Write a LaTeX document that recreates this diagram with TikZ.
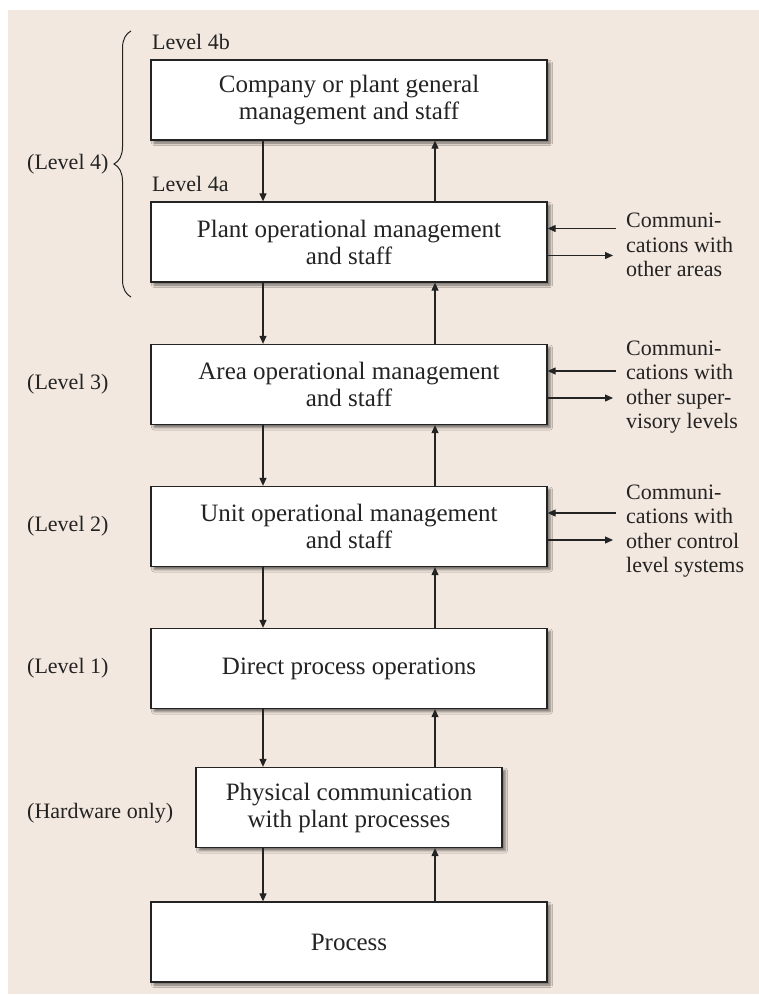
\documentclass[tikz,border=0pt]{standalone}
\usepackage{fontspec}
\setmainfont{Liberation Serif}
\usetikzlibrary{shadows.blur,decorations.pathreplacing,arrows.meta}
\definecolor{panel}{RGB}{243,232,223}
\definecolor{ink}{RGB}{35,35,35}
\begin{document}
\begin{tikzpicture}[x=1pt,y=-1pt,
  level/.style={draw=ink, line width=1.3pt, fill=white, minimum width=396pt,
    minimum height=80pt, inner sep=0pt, align=center,
    font=\fontsize{25}{27}\selectfont, text=ink,
    blur shadow={shadow xshift=3pt, shadow yshift=-3pt,
      shadow blur radius=2.5pt, shadow opacity=55}},
  tag/.style={anchor=west, inner sep=0pt, font=\fontsize{22}{24.5}\selectfont, text=ink},
  note/.style={anchor=west, inner sep=0pt, align=left,
    font=\fontsize{22}{24.5}\selectfont, text=ink},
  link/.style={draw=ink, line width=1.2pt, -{Triangle[length=8pt,width=7pt]}}
]
\useasboundingbox (0,0) rectangle (759,995);
\fill[panel] (8,10) rectangle (759,994);

% hierarchy boxes
\node[level] (b4b) at (349,100)   {Company or plant general\\management and staff};
\node[level] (b4a) at (349,242)   {Plant operational management\\and staff};
\node[level] (b3)  at (349,384.5) {Area operational management\\and staff};
\node[level] (b2)  at (349,526.5) {Unit operational management\\and staff};
\node[level] (b1)  at (349,668.5) {Direct process operations};
\node[level, minimum width=306pt] (hw) at (349,807.5) {Physical communication\\with plant processes};
\node[level] (pr)  at (349,942)   {Process};

% columns of the vertical connectors
\coordinate (dx) at (263,0);
\coordinate (ux) at (435,0);
\foreach \a/\b in {b4b/b4a, b4a/b3, b3/b2, b2/b1, b1/hw, hw/pr}{
  \draw[link] (\a.south -| dx) -- (\b.north -| dx);
  \draw[link] (\b.north -| ux) -- (\a.south -| ux);
}

% lateral communication arrows
\coordinate (inx) at (616,0);
\coordinate (outx) at (613,0);
\foreach \n in {b4a, b3, b2}{
  \draw[link] ([yshift=13.5pt]\n.east -| inx) -- ([yshift=13.5pt]\n.east);
  \draw[link] ([yshift=-13.5pt]\n.east) -- ([yshift=-13.5pt]\n.east -| outx);
}
\node[note] (c4) at (626,245) {Communi-\\cations with\\other areas};
\node[note] (c3) at (626,387) {Communi-\\cations with\\other super-\\visory levels};
\node[note] (c2) at (626,531) {Communi-\\cations with\\other control\\level systems};

% level labels
\node[tag, anchor=base west] (l4b) at (152,50)  {Level 4b};
\node[tag, anchor=base west] (l4a) at (152,192) {Level 4a};
\draw[ink, line width=1pt, decorate, decoration={brace, amplitude=17pt}]
  (131,297) -- (131,31);
\node[tag] (l4) at (27,164)   {(Level 4)};
\node[tag] (l3) at (27,384.5) {(Level 3)};
\node[tag] (l2) at (27,526.5) {(Level 2)};
\node[tag] (l1) at (27,668.5) {(Level 1)};
\node[tag] (l0) at (27,813)   {(Hardware only)};
\end{tikzpicture}
\end{document}
